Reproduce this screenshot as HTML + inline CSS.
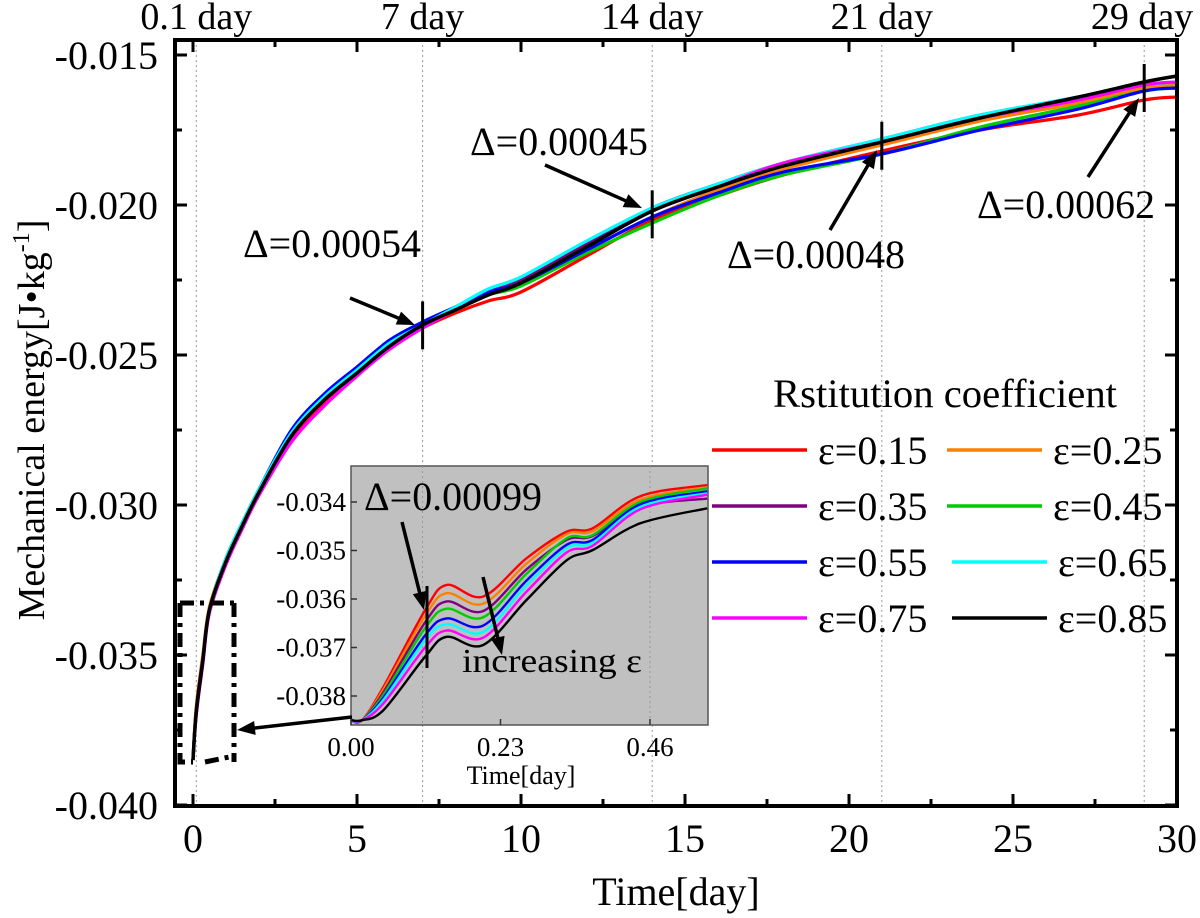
<!DOCTYPE html>
<html><head><meta charset="utf-8"><style>
html,body{margin:0;padding:0;background:#fff;}
svg{display:block;font-family:"Liberation Serif",serif;}
</style></head><body>
<svg id="chart" width="1200" height="918" viewBox="0 0 1200 918" xmlns="http://www.w3.org/2000/svg">
<g id="grid"></g>
<g id="curves"></g>
<g id="inset"></g>
<g id="axes"></g>
<g id="ann"></g>
</svg>
<script>
const seriesNames=["ε=0.15","ε=0.25","ε=0.35","ε=0.45","ε=0.55","ε=0.65","ε=0.75","ε=0.85"];
const seriesColors=["#ff0000","#ff8000","#800080","#00cc00","#0000ff","#00ffff","#ff00ff","#000000"];
const days=[0,0.1,0.3,0.5,1,1.5,2,3,4,5,6,7,8,9,10,12,14,16,18,21,24,27,29,30];
const eRed=[-0.0385,-0.0368,-0.0351,-0.0335,-0.0319,-0.0307,-0.0296,-0.0278,-0.0266,-0.0256,-0.0248,-0.0241,-0.0236,-0.0232,-0.0229,-0.0217,-0.0205,-0.0197,-0.0190,-0.0182,-0.0175,-0.0170,-0.0165,-0.0164];
const eOrange=[-0.0385,-0.0367,-0.0350,-0.0334,-0.0318,-0.0306,-0.0295,-0.0276,-0.0264,-0.0255,-0.0247,-0.0240,-0.0234,-0.0229,-0.0226,-0.0215,-0.0204,-0.0195,-0.0188,-0.0180,-0.0172,-0.0166,-0.0161,-0.0160];
const ePurple=[-0.0385,-0.0368,-0.0351,-0.0335,-0.0319,-0.0307,-0.0296,-0.0277,-0.0265,-0.0256,-0.0247,-0.0240,-0.0234,-0.0229,-0.0225,-0.0213,-0.0201,-0.0193,-0.0186,-0.0178,-0.0170,-0.0164,-0.0159,-0.0157];
const eGreen=[-0.0385,-0.0369,-0.0352,-0.0335,-0.0319,-0.0307,-0.0296,-0.0277,-0.0265,-0.0256,-0.0247,-0.0240,-0.0235,-0.0230,-0.0227,-0.0216,-0.0206,-0.0197,-0.0190,-0.0183,-0.0174,-0.0167,-0.0162,-0.0161];
const eBlue=[-0.0385,-0.0369,-0.0352,-0.0335,-0.0318,-0.0306,-0.0295,-0.0275,-0.0263,-0.0254,-0.0245,-0.0239,-0.0234,-0.0229,-0.0226,-0.0215,-0.0204,-0.0196,-0.0189,-0.0183,-0.0175,-0.0168,-0.0162,-0.0161];
const eCyan=[-0.0385,-0.0369,-0.0352,-0.0335,-0.0318,-0.0306,-0.0295,-0.0276,-0.0264,-0.0255,-0.0246,-0.0240,-0.0234,-0.0228,-0.0224,-0.0212,-0.0201,-0.0193,-0.0186,-0.0178,-0.0170,-0.0164,-0.0160,-0.0159];
const eMagenta=[-0.0385,-0.0370,-0.0353,-0.0336,-0.0320,-0.0308,-0.0297,-0.0279,-0.0267,-0.0257,-0.0248,-0.0241,-0.0235,-0.0230,-0.0226,-0.0214,-0.0202,-0.0194,-0.0186,-0.0179,-0.0171,-0.0165,-0.0160,-0.0159];
const eBlack=[-0.0385,-0.0369,-0.0352,-0.0335,-0.0319,-0.0307,-0.0296,-0.0277,-0.0265,-0.0256,-0.0247,-0.0240,-0.0235,-0.0230,-0.0226,-0.0214,-0.0202,-0.0194,-0.0187,-0.0179,-0.0171,-0.0164,-0.0159,-0.0157];
const mainSeries=[eRed,eOrange,ePurple,eGreen,eBlue,eCyan,eMagenta,eBlack];
const xTicks=[0,5,10,15,20,25,30];
const yTicks=[-0.040,-0.035,-0.030,-0.025,-0.020,-0.015];
const topDays=[0.1,7,14,21,29];
const topLabels=["0.1 day","7 day","14 day","21 day","29 day"];
const insetT=[0,0.017,0.05,0.114,0.147,0.203,0.27,0.332,0.372,0.445,0.548];
const iRed=[-0.0385,-0.0385,-0.03781,-0.03623,-0.03571,-0.03595,-0.03516,-0.03461,-0.03454,-0.03388,-0.03365];
const iOrange=[-0.0385,-0.0385,-0.03786,-0.03635,-0.03588,-0.03610,-0.03527,-0.03466,-0.03460,-0.03395,-0.03370];
const iPurple=[-0.0385,-0.0385,-0.03792,-0.03648,-0.03605,-0.03625,-0.03539,-0.03478,-0.03470,-0.03410,-0.03393];
const iGreen=[-0.0385,-0.0385,-0.03797,-0.03660,-0.03620,-0.03638,-0.03548,-0.03475,-0.03468,-0.03400,-0.03372];
const iBlue=[-0.0385,-0.0385,-0.03803,-0.03675,-0.03640,-0.03655,-0.03562,-0.03488,-0.03478,-0.03405,-0.03378];
const iCyan=[-0.0385,-0.0385,-0.03808,-0.03685,-0.03652,-0.03668,-0.03572,-0.03495,-0.03484,-0.03410,-0.03382];
const iMagenta=[-0.0385,-0.0385,-0.03815,-0.03700,-0.03665,-0.03680,-0.03585,-0.03504,-0.03490,-0.03415,-0.03385];
const iBlack=[-0.0385,-0.0385,-0.03829,-0.03719,-0.03678,-0.03695,-0.03602,-0.03520,-0.03499,-0.03444,-0.03413];
const insetSeries=[iRed,iOrange,iPurple,iGreen,iBlue,iCyan,iMagenta,iBlack];
const insetXTicks=[0,0.23,0.46];
const insetXLabels=["0.00","0.23","0.46"];
const insetYTicks=[-0.038,-0.037,-0.036,-0.035,-0.034];
const deltaDays=[7,14,21,29];
const deltaLabels=["Δ=0.00054","Δ=0.00045","Δ=0.00048","Δ=0.00062"];

const NS="http://www.w3.org/2000/svg";
function el(tag,attrs,parent,text){const e=document.createElementNS(NS,tag);for(const k in attrs)e.setAttribute(k,attrs[k]);if(text!==undefined)e.textContent=text;parent.appendChild(e);return e;}
function smooth(P){let d='M'+P[0][0].toFixed(1)+','+P[0][1].toFixed(1);
for(let i=0;i<P.length-1;i++){const p0=P[Math.max(0,i-1)],p1=P[i],p2=P[i+1],p3=P[Math.min(P.length-1,i+2)];
const c1=[p1[0]+(p2[0]-p0[0])/6,p1[1]+(p2[1]-p0[1])/6],c2=[p2[0]-(p3[0]-p1[0])/6,p2[1]-(p3[1]-p1[1])/6];
d+=` C${c1[0].toFixed(1)},${c1[1].toFixed(1)} ${c2[0].toFixed(1)},${c2[1].toFixed(1)} ${p2[0].toFixed(1)},${p2[1].toFixed(1)}`;}
return d;}
const X=d=>193+d*32.8;
const Y=v=>805-(v+0.040)/0.005*150;
const L=175,R=1177,T=40,B=806;
const gGrid=document.getElementById('grid'),gC=document.getElementById('curves'),gI=document.getElementById('inset'),gA=document.getElementById('axes'),gN=document.getElementById('ann');

topDays.forEach((d,i)=>{const l=el('line',{x1:X(d),x2:X(d),y1:T,y2:B,stroke:'#999','stroke-width':1,'stroke-dasharray':'2,3'},gGrid);
});

mainSeries.forEach((s,k)=>{const P=s.map((v,i)=>[X(days[i]),Y(v)]);
const p=el('path',{d:smooth(P),fill:'none',stroke:seriesColors[k],'stroke-width':k==7?3.5:3.2,'stroke-linejoin':'round'},gC);
});

const fr=el('rect',{x:L,y:T,width:R-L,height:B-T,fill:'none',stroke:'#000','stroke-width':4},gA);

for(let d=0;d<=30;d+=2.5){const maj=d%5==0,len=maj?12:7;
el('line',{x1:X(d),x2:X(d),y1:B,y2:B-len,stroke:'#000','stroke-width':3},gA);
el('line',{x1:X(d),x2:X(d),y1:T,y2:T+len,stroke:'#000','stroke-width':3},gA);}
xTicks.forEach(d=>{const t=el('text',{x:X(d),y:852,'font-size':40,'text-anchor':'middle'},gA,String(d));});
for(let v=-0.040;v<=-0.0149;v+=0.0025){const maj=Math.abs(Math.round(v*10000)%50)==0,len=maj?12:7;
el('line',{x1:L,x2:L+len,y1:Y(v),y2:Y(v),stroke:'#000','stroke-width':3},gA);
el('line',{x1:R,x2:R-len,y1:Y(v),y2:Y(v),stroke:'#000','stroke-width':3},gA);}
yTicks.forEach(v=>{const t=el('text',{x:158,y:Y(v)+14,'font-size':40,'text-anchor':'end'},gA,v.toFixed(3));});
topDays.forEach((d,i)=>{const t=el('text',{x:i==4?1142:X(d),y:29,'font-size':38,'text-anchor':'middle'},gA,topLabels[i]);});
let t=el('text',{x:676,y:905,'font-size':40,'text-anchor':'middle'},gA,'Time[day]');
t=el('text',{x:0,y:0,'font-size':38,'text-anchor':'middle',transform:'translate(44,420) rotate(-90)'},gA);

t.innerHTML='Mechanical energy[J•kg<tspan dy="-15" font-size="24">-1</tspan><tspan dy="15">]</tspan>';

const deltaText=[[243,257],[470,155],[727,268],[977,218]];
const arrows=[[350,298,415,325],[545,165,642,208],[830,230,877,150],[1088,177,1139,98]];
deltaDays.forEach((d,i)=>{
let vals=mainSeries.map(s=>{for(let j=1;j<days.length;j++)if(days[j]>=d){const f=(d-days[j-1])/(days[j]-days[j-1]);return s[j-1]+f*(s[j]-s[j-1]);}});
const yc=Y(vals.reduce((a,b)=>a+b)/vals.length);
const b=el('line',{x1:X(d),x2:X(d),y1:yc-24,y2:yc+24,stroke:'#000','stroke-width':3},gN);
const tx=el('text',{x:deltaText[i][0],y:deltaText[i][1],'font-size':40,textLength:178,lengthAdjust:'spacingAndGlyphs'},gN,deltaLabels[i]);
});
function arrow(a,name){const [x1,y1,x2,y2]=a;const ang=Math.atan2(y2-y1,x2-x1),h=18,w=7;
const ln=el('line',{x1,y1,x2:x2-Math.cos(ang)*h*0.8,y2:y2-Math.sin(ang)*h*0.8,stroke:'#000','stroke-width':3.5},gN);
const px=x2-Math.cos(ang)*h,py=y2-Math.sin(ang)*h;
el('polygon',{points:`${x2},${y2} ${px+Math.sin(ang)*w},${py-Math.cos(ang)*w} ${px-Math.sin(ang)*w},${py+Math.cos(ang)*w}`,fill:'#000'},gN);}
arrows.forEach(a=>arrow(a,'delta-arrow'));

t=el('text',{x:773,y:407,'font-size':40,textLength:344,lengthAdjust:'spacingAndGlyphs'},gN,'Rstitution coefficient');
seriesNames.forEach((n,k)=>{const col=k%2,row=Math.floor(k/2);const lx=col?(row>=2?952:947):712;const ly=450+row*56;
const g=el('g',{},gN);
el('line',{x1:lx,x2:lx+95,y1:ly,y2:ly,stroke:seriesColors[k],'stroke-width':3.5},g);
el('text',{x:lx+106,y:ly+14,'font-size':40},g,n);});

const box=el('path',{d:'M180,603 L234,603 M234,603 L234,762 M180,603 L180,762 L193,762 M205,762 L234,756',fill:'none',stroke:'#000','stroke-width':5,'stroke-dasharray':'14,6,4,6'},gN);

arrow([352,717,237,730],'zoom-arrow');

const IL=351,IR=708,IT=466,IB=725;
const IX=v=>IL+v*650;
const IY=v=>502-(v+0.034)*48500;
const ib=el('rect',{x:IL,y:IT,width:IR-IL,height:IB-IT,fill:'#c0c0c0',stroke:'#555','stroke-width':1.5},gI);

[0.11,0.46].forEach(v=>el('line',{x1:IX(v),x2:IX(v),y1:IT,y2:IB,stroke:'#999','stroke-width':1,'stroke-dasharray':'2,3'},gI));
insetSeries.forEach((s,k)=>{const P=s.map((v,i)=>[IX(insetT[i]),IY(v)]);
const p=el('path',{d:smooth(P),fill:'none',stroke:seriesColors[k],'stroke-width':2.4,'stroke-linejoin':'round'},gI);
});
insetXTicks.forEach((v,i)=>{el('line',{x1:IX(v),x2:IX(v),y1:IB,y2:IB-6,stroke:'#333','stroke-width':1.5},gI);
const tt=el('text',{x:IX(v),y:756,'font-size':27,'text-anchor':'middle'},gI,insetXLabels[i]);});
insetYTicks.forEach(v=>{el('line',{x1:IL,x2:IL+6,y1:IY(v),y2:IY(v),stroke:'#333','stroke-width':1.5},gI);
const tt=el('text',{x:346,y:IY(v)+9,'font-size':27,'text-anchor':'end'},gI,v.toFixed(3));});
t=el('text',{x:521,y:784,'font-size':26,'text-anchor':'middle'},gI,'Time[day]');
el('line',{x1:427,x2:427,y1:586,y2:668,stroke:'#000','stroke-width':3},gI);
t=el('text',{x:364,y:510,'font-size':40,textLength:178,lengthAdjust:'spacingAndGlyphs'},gI,'Δ=0.00099');
t=el('text',{x:462,y:672,'font-size':34,textLength:180,lengthAdjust:'spacingAndGlyphs'},gI,'increasing ε');
arrow([402,522,424,610],'inset-delta-arrow');
arrow([483,577,502,655],'increasing-arrow');
</script>
</body></html>
